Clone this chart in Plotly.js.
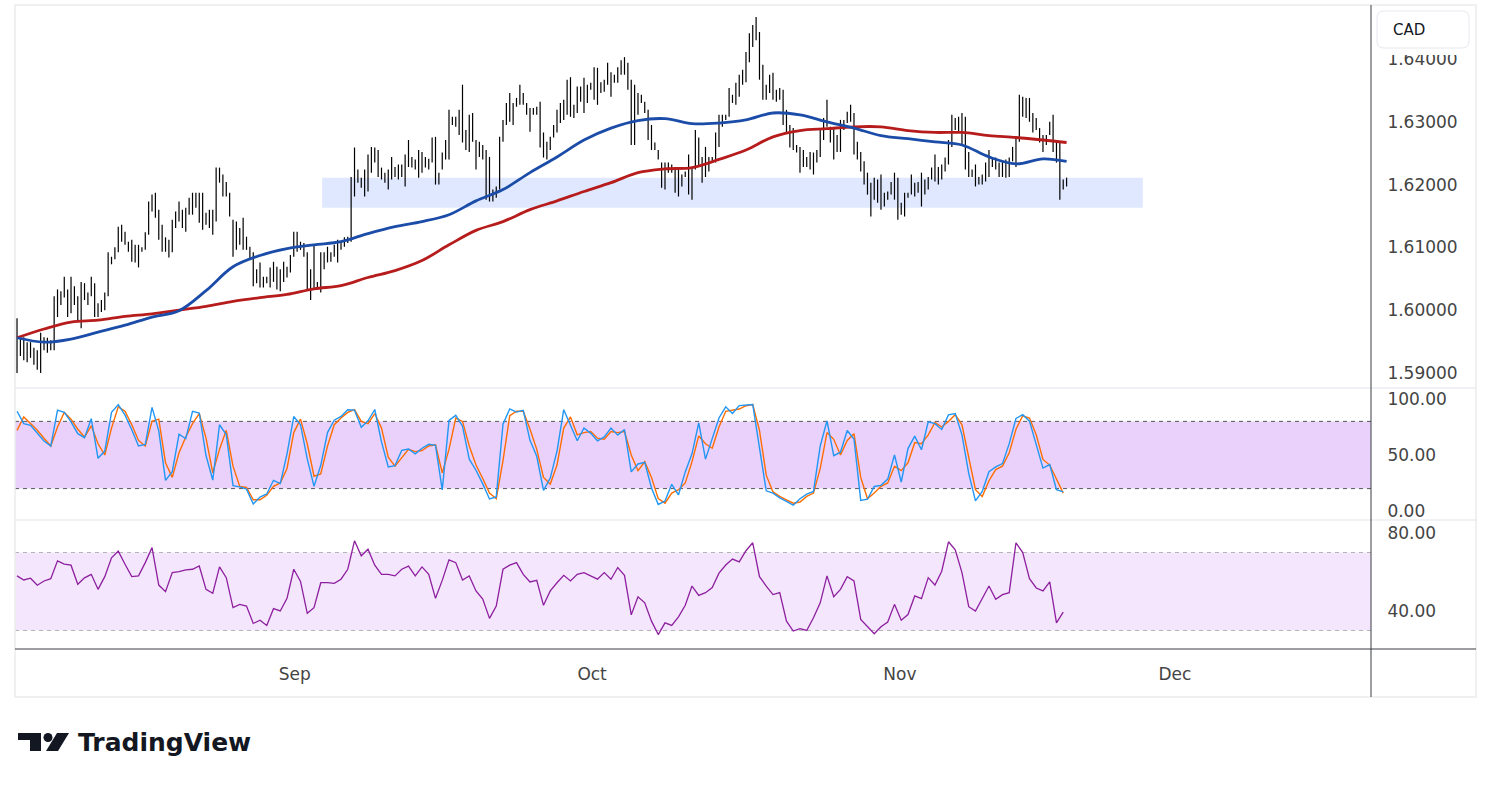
<!DOCTYPE html>
<html><head><meta charset="utf-8">
<script src="https://cdn.plot.ly/plotly-3.0.1.min.js"></script>
<style>html,body{margin:0;padding:0;background:#fff;}#chart{width:1491px;height:787px;}</style>
</head><body><div id="chart"></div>
<script>
// ---- price bars (high / low per bar, bar index = position on the gap-free time scale) ----
const highs = [
1.5987,1.5956,1.5957,1.5949,1.5949,1.5940,1.5936,1.5964,1.5957,1.5956,
1.5952,1.6022,1.6033,1.6030,1.6053,1.6033,1.6053,1.6038,1.6022,1.6045,
1.6043,1.6028,1.6053,1.6043,1.6011,1.6016,1.6028,1.6092,1.6085,1.6100,
1.6133,1.6136,1.6125,1.6109,1.6112,1.6104,1.6104,1.6100,1.6124,1.6173,
1.6184,1.6187,1.6160,1.6136,1.6116,1.6112,1.6144,1.6157,1.6173,1.6160,
1.6163,1.6179,1.6187,1.6187,1.6187,1.6187,1.6155,1.6160,1.6160,1.6227,
1.6227,1.6216,1.6204,1.6187,1.6144,1.6141,1.6131,1.6147,1.6117,1.6101,
1.6092,1.6065,1.6076,1.6053,1.6053,1.6068,1.6077,1.6069,1.6065,1.6077,
1.6069,1.6088,1.6125,1.6125,1.6109,1.6107,1.6092,1.6065,1.6104,1.6045,
1.6092,1.6092,1.6101,1.6092,1.6104,1.6112,1.6109,1.6116,1.6117,1.6212,
1.6259,1.6224,1.6211,1.6224,1.6248,1.6260,1.6259,1.6255,1.6227,1.6219,
1.6224,1.6244,1.6228,1.6232,1.6232,1.6248,1.6271,1.6244,1.6240,1.6255,
1.6252,1.6244,1.6241,1.6275,1.6276,1.6219,1.6251,1.6271,1.6319,1.6308,
1.6308,1.6319,1.6359,1.6287,1.6311,1.6314,1.6271,1.6268,1.6263,1.6255,
1.6244,1.6192,1.6197,1.6276,1.6303,1.6330,1.6346,1.6330,1.6338,1.6359,
1.6346,1.6330,1.6322,1.6322,1.6324,1.6332,1.6283,1.6268,1.6276,1.6295,
1.6319,1.6330,1.6335,1.6367,1.6371,1.6327,1.6356,1.6356,1.6370,1.6359,
1.6362,1.6387,1.6386,1.6363,1.6367,1.6394,1.6379,1.6375,1.6387,1.6398,
1.6403,1.6394,1.6367,1.6359,1.6346,1.6343,1.6332,1.6319,1.6295,1.6267,
1.6255,1.6235,1.6235,1.6235,1.6232,1.6224,1.6224,1.6216,1.6221,1.6248,
1.6227,1.6287,1.6275,1.6244,1.6260,1.6244,1.6244,1.6283,1.6311,1.6311,
1.6311,1.6354,1.6343,1.6362,1.6375,1.6383,1.6411,1.6441,1.6454,1.6467,
1.6443,1.6391,1.6359,1.6375,1.6378,1.6351,1.6354,1.6351,1.6319,1.6295,
1.6290,1.6263,1.6260,1.6255,1.6244,1.6252,1.6251,1.6255,1.6290,1.6306,
1.6335,1.6292,1.6290,1.6279,1.6303,1.6303,1.6316,1.6327,1.6314,1.6268,
1.6252,1.6237,1.6219,1.6203,1.6211,1.6208,1.6216,1.6187,1.6189,1.6204,
1.6219,1.6211,1.6171,1.6187,1.6187,1.6216,1.6203,1.6204,1.6219,1.6208,
1.6212,1.6227,1.6248,1.6228,1.6232,1.6243,1.6271,1.6311,1.6306,1.6308,
1.6314,1.6308,1.6252,1.6224,1.6232,1.6212,1.6216,1.6235,1.6255,1.6244,
1.6243,1.6235,1.6237,1.6240,1.6243,1.6260,1.6275,1.6343,1.6340,1.6338,
1.6338,1.6314,1.6306,1.6290,1.6279,1.6279,1.6300,1.6311,1.6271,1.6268,
1.6208,1.6211];
const lows = [
1.5900,1.5927,1.5920,1.5917,1.5924,1.5913,1.5905,1.5900,1.5936,1.5932,
1.5936,1.5936,1.5989,1.6008,1.6020,1.5989,1.5995,1.6008,1.5984,1.5971,
1.6016,1.6008,1.6022,1.5989,1.5989,1.5997,1.6000,1.6022,1.6073,1.6081,
1.6092,1.6109,1.6104,1.6093,1.6077,1.6076,1.6068,1.6093,1.6096,1.6120,
1.6157,1.6147,1.6112,1.6093,1.6093,1.6084,1.6092,1.6131,1.6141,1.6131,
1.6125,1.6152,1.6152,1.6163,1.6139,1.6128,1.6136,1.6131,1.6120,1.6141,
1.6203,1.6181,1.6181,1.6149,1.6085,1.6096,1.6104,1.6096,1.6096,1.6081,
1.6038,1.6043,1.6036,1.6036,1.6043,1.6036,1.6045,1.6033,1.6030,1.6045,
1.6052,1.6060,1.6085,1.6093,1.6096,1.6085,1.6033,1.6016,1.6033,1.6033,
1.6028,1.6065,1.6076,1.6077,1.6085,1.6076,1.6096,1.6101,1.6107,1.6109,
1.6181,1.6203,1.6195,1.6181,1.6189,1.6219,1.6235,1.6212,1.6208,1.6203,
1.6192,1.6208,1.6212,1.6208,1.6212,1.6197,1.6228,1.6227,1.6224,1.6211,
1.6219,1.6227,1.6224,1.6235,1.6200,1.6200,1.6224,1.6240,1.6240,1.6295,
1.6292,1.6279,1.6267,1.6255,1.6252,1.6268,1.6224,1.6244,1.6240,1.6176,
1.6173,1.6173,1.6179,1.6192,1.6268,1.6295,1.6300,1.6295,1.6324,1.6327,
1.6327,1.6311,1.6284,1.6311,1.6311,1.6259,1.6243,1.6240,1.6255,1.6275,
1.6283,1.6298,1.6303,1.6311,1.6308,1.6306,1.6314,1.6332,1.6314,1.6330,
1.6351,1.6335,1.6327,1.6346,1.6348,1.6359,1.6340,1.6362,1.6362,1.6375,
1.6375,1.6351,1.6263,1.6263,1.6311,1.6330,1.6314,1.6271,1.6255,1.6255,
1.6240,1.6195,1.6192,1.6219,1.6219,1.6187,1.6181,1.6197,1.6212,1.6184,
1.6176,1.6224,1.6228,1.6203,1.6212,1.6221,1.6235,1.6235,1.6260,1.6292,
1.6303,1.6308,1.6330,1.6327,1.6340,1.6359,1.6363,1.6395,1.6419,1.6430,
1.6367,1.6335,1.6335,1.6346,1.6335,1.6332,1.6335,1.6295,1.6283,1.6259,
1.6255,1.6251,1.6219,1.6228,1.6228,1.6224,1.6216,1.6235,1.6244,1.6271,
1.6292,1.6267,1.6240,1.6252,1.6252,1.6287,1.6298,1.6300,1.6248,1.6240,
1.6221,1.6200,1.6184,1.6149,1.6176,1.6171,1.6160,1.6165,1.6176,1.6184,
1.6176,1.6144,1.6152,1.6149,1.6179,1.6184,1.6181,1.6187,1.6165,1.6184,
1.6192,1.6208,1.6205,1.6200,1.6208,1.6221,1.6232,1.6260,1.6287,1.6283,
1.6263,1.6224,1.6212,1.6212,1.6197,1.6200,1.6200,1.6205,1.6212,1.6228,
1.6224,1.6212,1.6212,1.6211,1.6212,1.6237,1.6228,1.6268,1.6308,1.6306,
1.6300,1.6283,1.6287,1.6267,1.6252,1.6263,1.6279,1.6252,1.6235,1.6176,
1.6192,1.6197];

// ---- moving averages, read at every 8th bar ----
const maBars = [0,8,16,24,32,40,48,56,64,72,80,88,96,104,112,120,128,136,144,152,
160,168,176,184,192,200,208,216,224,232,240,248,256,264,272,280,288,296,304,311];
const maFast = [1.5956,1.5949,1.5954,1.5965,1.5976,1.5989,1.5999,1.6031,1.6069,1.6087,
1.6098,1.6104,1.6109,1.6122,1.6133,1.6141,1.6152,1.6174,1.6192,1.6219,
1.6244,1.6271,1.6290,1.6302,1.6305,1.6297,1.6298,1.6303,1.6314,1.6311,
1.6300,1.6290,1.6278,1.6273,1.6268,1.6263,1.6244,1.6233,1.6241,1.6237];
const maSlow = [1.5956,1.5970,1.5981,1.5984,1.5990,1.5994,1.6000,1.6006,1.6014,1.6020,
1.6025,1.6034,1.6039,1.6052,1.6063,1.6079,1.6104,1.6127,1.6141,1.6160,
1.6174,1.6189,1.6203,1.6219,1.6225,1.6227,1.6240,1.6255,1.6276,1.6286,
1.6289,1.6292,1.6292,1.6286,1.6283,1.6283,1.6278,1.6275,1.6271,1.6267];

// ---- oscillators, read at every 2nd bar ----
const indicatorStep = 2;
const stochK = [89,78,76.5,69.5,62.5,58,90,88,79.5,69,
65.5,82.4,47,53.5,88,95,85.5,72.5,58,59.5,
92.5,71.5,27.3,35,68.5,64.5,89,87.5,49.5,27.5,
77,68.2,22.6,21.5,19.5,6.3,12.5,15.2,27.4,24.5,
51,84.3,77,46.5,22,40.8,70,81,84.4,90.4,
90,74.7,80.5,90.6,61.7,39.3,40.5,54.2,55.3,51,
56,59.5,58.6,18.8,80.9,85.4,75.7,46.3,36.4,24.2,
10.7,12.6,77.5,91.2,88.3,89.8,63.1,48.8,18.4,29.4,
53.5,90.4,77.3,62.7,74.1,69.3,62.7,66.1,74,67.7,
72.7,34.9,42,43.5,20.5,5.8,8.9,23.8,14.4,34.9,
51,78.7,46.3,65.7,83,93,87,94.1,94.8,95.1,
56.4,18,15.9,11.7,8.6,5.2,10.9,15,17.5,58,
80.4,49.4,52.5,71.8,64.3,9.5,10.5,21.9,22.9,28.5,
50,25.9,55.7,66.8,54.7,79.5,78,72.8,85.8,87,
68,33.5,9.1,17.5,35,39.3,42.3,60.1,82.6,86,
80.2,59.2,38.3,41.5,19,17];
const stochD = [72,84,78,72,65,58,75,88,82,73,
66,76,60,50,74,93,89,77,63,58,
80,82,43,30,52,66,78,87,65,34,
55,72,40,22,21,10,10,14,22,25,
38,70,82,60,31,33,58,77,83,88,
90.5,80,78,87,74,48,40,48,55,53,
54,58,59,34,55,83,80,58,41,29,
16,11,45,85,89,89,73,55,30,24,
41,74,84,68,70,71,65,64,71,70,
71,50,36,44,30,11,7,16,19,25,
44,67,60,56,75,89,90,91,94,95,
72,32,17,13,10,7,8,13,16,38,
70,64,50,63,69,30,11,16,22,25,
40,36,43,61,60,68,79,75,80,86,
77,48,19,13,27,37,40,52,73,85,
83,68,46,41,28,16];
const rsi = [58.0,55.9,56.8,53.2,55.4,56.6,65.7,64.0,63.5,53.7,
57.0,58.8,51.1,57.6,67.3,70.7,64.0,57.6,58.0,64.8,
72.5,53.3,49.9,59.7,60.2,61.1,61.4,63.1,51.1,49.1,
62.6,57.1,41.7,43.4,42.5,33.6,35.3,32.6,41.2,40.0,
46.5,61.4,55.2,38.8,41.7,54.5,54.5,54.2,56.3,61.4,
76.0,68.3,71.7,63.5,58.8,58.8,58.0,61.4,63.0,58.0,
62.6,58.8,46.5,55.7,66.2,64.8,55.9,58.0,50.3,46.1,
36.2,42.5,61.4,63.5,64.8,58.8,54.9,55.7,42.9,50.3,
54.5,58.3,55.4,58.8,59.7,58.0,56.3,59.7,56.3,62.3,
58.3,38.0,47.3,44.2,34.8,27.9,33.9,32.6,37.0,42.9,
52.8,48.0,49.4,52.0,59.4,63.6,66.6,65.2,70.9,75.0,
57.6,52.8,48.4,49.4,34.8,29.7,30.9,30.0,36.5,44.2,
58.0,47.3,51.1,57.6,55.4,35.7,31.9,28.3,31.9,34.3,
43.4,35.3,38.2,47.7,46.3,57.1,53.3,60.4,75.5,71.4,
59.7,42.2,40.0,46.8,52.8,46.0,48.4,49.4,75.0,70.0,
56.6,51.8,50.3,54.9,33.9,39.4];

// ---- axis labels & zone ----
const monthTickBars = [82.3,170.4,261.6,343.1];
const monthLabels = ['Sep','Oct','Nov','Dec'];
const priceTicks = [1.59,1.60,1.61,1.62,1.63,1.64];
const stochTicks = [0,50,100];
const rsiTicks = [40,80];
const zoneStartBar = 90.4, zoneEndBar = 333.6;
const zoneLow = 1.6163, zoneHigh = 1.6211;

// ---- build traces ----
const segX = [], segY = [];
highs.forEach((h,i)=>{ segX.push(i,i,null); segY.push(lows[i],h,null); });
const indX = stochK.map((_,j)=>j*indicatorStep);

const data = [
 {type:'scatter',mode:'lines',x:segX,y:segY,line:{color:'#000',width:1.2},xaxis:'x',yaxis:'y',hoverinfo:'skip'},
 {type:'scatter',mode:'lines',x:maBars,y:maSlow,line:{color:'#b71c1c',width:2.8,shape:'spline',smoothing:1},xaxis:'x',yaxis:'y'},
 {type:'scatter',mode:'lines',x:maBars,y:maFast,line:{color:'#1a4ca8',width:2.8,shape:'spline',smoothing:1},xaxis:'x',yaxis:'y'},
 {type:'scatter',mode:'lines',x:indX,y:stochD,line:{color:'#ff6d00',width:1.4},xaxis:'x',yaxis:'y2'},
 {type:'scatter',mode:'lines',x:indX,y:stochK,line:{color:'#2196f3',width:1.4},xaxis:'x',yaxis:'y2'},
 {type:'scatter',mode:'lines',x:indX,y:rsi,line:{color:'#8e1f9f',width:1.3},xaxis:'x',yaxis:'y3'}
];

const W=1491,H=787,L=15,R=120,T=5,B=138;
const pw=W-L-R, ph=H-T-B;
const px = v => (v-L)/pw;
const py = v => (H-B-v)/ph;
const frameC='#e0e3eb', darkC='#3a3d45';
const tickFont={family:'DejaVu Sans',size:17,color:'#444'};

function rr(x0,y0,x1,y1,r){
 return `M${px(x0+r)},${py(y0)} L${px(x1-r)},${py(y0)} Q${px(x1)},${py(y0)} ${px(x1)},${py(y0+r)} L${px(x1)},${py(y1-r)} Q${px(x1)},${py(y1)} ${px(x1-r)},${py(y1)} L${px(x0+r)},${py(y1)} Q${px(x0)},${py(y1)} ${px(x0)},${py(y1-r)} L${px(x0)},${py(y0+r)} Q${px(x0)},${py(y0)} ${px(x0+r)},${py(y0)} Z`;
}
function poly(pts){ return 'M'+pts.map(p=>px(p[0])+','+py(p[1])).join(' L')+' Z'; }

const shapes = [
 {type:'rect',xref:'x',yref:'y',x0:zoneStartBar,x1:zoneEndBar,y0:zoneLow,y1:zoneHigh,fillcolor:'rgba(41,98,255,0.15)',line:{width:0},layer:'below'},
 {type:'rect',xref:'paper',yref:'y2',x0:0,x1:1,y0:20,y1:80,fillcolor:'#e9d1fc',line:{width:0},layer:'below'},
 {type:'line',xref:'paper',yref:'y2',x0:0,x1:1,y0:80,y1:80,line:{color:'#555',width:1,dash:'4px,4px'},layer:'below'},
 {type:'line',xref:'paper',yref:'y2',x0:0,x1:1,y0:20,y1:20,line:{color:'#555',width:1,dash:'4px,4px'},layer:'below'},
 {type:'rect',xref:'paper',yref:'y3',x0:0,x1:1,y0:30,y1:70,fillcolor:'#f3e6fd',line:{width:0},layer:'below'},
 {type:'line',xref:'paper',yref:'y3',x0:0,x1:1,y0:70,y1:70,line:{color:'#b5b5b5',width:1,dash:'4px,4px'},layer:'below'},
 {type:'line',xref:'paper',yref:'y3',x0:0,x1:1,y0:30,y1:30,line:{color:'#b5b5b5',width:1,dash:'4px,4px'},layer:'below'},
 // frame
 {type:'rect',xref:'paper',yref:'paper',x0:px(15),x1:px(1476),y0:py(697),y1:py(5),line:{color:'#ebebeb',width:1.5},fillcolor:'rgba(0,0,0,0)'},
 {type:'line',xref:'paper',yref:'paper',x0:px(15),x1:px(1476),y0:py(388),y1:py(388),line:{color:frameC,width:1}},
 {type:'line',xref:'paper',yref:'paper',x0:px(15),x1:px(1476),y0:py(520),y1:py(520),line:{color:frameC,width:1}},
 {type:'line',xref:'paper',yref:'paper',x0:px(15),x1:px(1476),y0:py(649),y1:py(649),line:{color:darkC,width:1}},
 {type:'line',xref:'paper',yref:'paper',x0:px(1371),x1:px(1371),y0:py(697),y1:py(5),line:{color:darkC,width:1}},
 // currency box (covers top of the highest price label)
 {type:'rect',xref:'paper',yref:'paper',x0:px(1372.5),x1:px(1474),y0:py(55),y1:py(10),fillcolor:'#fff',line:{width:0},layer:'above'},
 {type:'path',xref:'paper',yref:'paper',path:rr(1377,11,1469,48,7),fillcolor:'#fff',line:{color:'#e6e8ee',width:1},layer:'above'},
 // logo mark
 {type:'path',xref:'paper',yref:'paper',path:poly([[18,733],[41,733],[41,751],[30,751],[30,740],[18,740]]),fillcolor:'#131722',line:{width:0}},
 {type:'circle',xref:'paper',yref:'paper',x0:px(43.5),x1:px(52.5),y0:py(742),y1:py(733),fillcolor:'#131722',line:{width:0}},
 {type:'path',xref:'paper',yref:'paper',path:poly([[57,733],[69,733],[58,751],[46,751]]),fillcolor:'#131722',line:{width:0}}
];

const annotations = [
 {xref:'paper',yref:'paper',x:px(1391),y:py(30),xanchor:'left',yanchor:'middle',text:'CAD',showarrow:false,font:{family:'DejaVu Sans',size:15,color:'#131722'}},
 {xref:'paper',yref:'paper',x:px(76),y:py(742),xanchor:'left',yanchor:'middle',text:'TradingView',showarrow:false,font:{family:'DejaVu Sans',size:25,weight:700,color:'#131722'}}
];

const yCommon = {side:'right',anchor:'x',showgrid:false,zeroline:false,showline:false,ticks:'outside',ticklen:12,tickcolor:'rgba(0,0,0,0)',tickfont:tickFont,fixedrange:true};

const layout = {
 width:W,height:H,margin:{l:L,r:R,t:T,b:B},
 paper_bgcolor:'#fff',plot_bgcolor:'#fff',showlegend:false,hovermode:false,
 xaxis:{range:[-0.6,401.2],anchor:'y3',showgrid:false,zeroline:false,showline:false,
  tickmode:'array',tickvals:monthTickBars,ticktext:monthLabels,ticks:'outside',ticklen:10,tickcolor:'rgba(0,0,0,0)',tickfont:tickFont},
 yaxis:Object.assign({},yCommon,{domain:[0.4053,1],range:[1.5876,1.6486],tickmode:'array',tickvals:priceTicks,ticktext:priceTicks.map(v=>v.toFixed(5))}),
 yaxis2:Object.assign({},yCommon,{domain:[0.2003,0.4053],range:[-8.04,109.8],tickmode:'array',tickvals:stochTicks,ticktext:stochTicks.map(v=>v.toFixed(2))}),
 yaxis3:Object.assign({},yCommon,{domain:[0,0.2003],range:[20.5,86.67],tickmode:'array',tickvals:rsiTicks,ticktext:rsiTicks.map(v=>v.toFixed(2))}),
 shapes:shapes,annotations:annotations
};

Plotly.newPlot('chart',data,layout,{staticPlot:true,displayModeBar:false});
</script></body></html>
